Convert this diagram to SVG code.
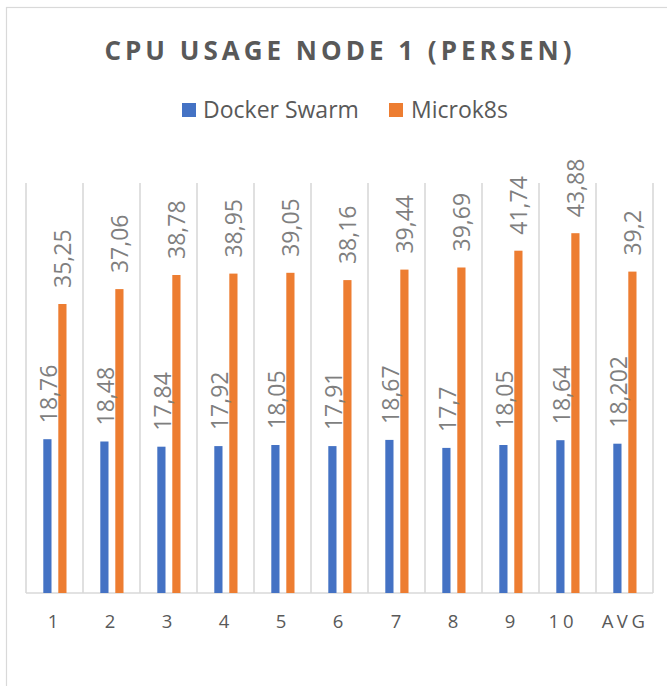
<svg xmlns="http://www.w3.org/2000/svg" width="667" height="686" viewBox="0 0 667 686">
<style>
.bg{fill:#FFFFFF}
.frame{fill:none;stroke:#D9D9D9;stroke-width:1.2}
.grid{stroke:#D9D9D9;stroke-width:1.6}
.blue{fill:#4472C4}
.orange{fill:#ED7D31}
.title{font-family:"Open Sans","Liberation Sans",sans-serif;font-weight:bold;font-size:26px;letter-spacing:4px;fill:#595959}
.leg{font-family:"Open Sans","Liberation Sans",sans-serif;font-size:23px;fill:#595959}
.dl{font-family:"Open Sans","Liberation Sans",sans-serif;font-size:23px;fill:#7F7F7F}
.ax{font-family:"Open Sans","Liberation Sans",sans-serif;font-size:18.5px;fill:#595959;text-anchor:middle}
</style>
<rect class="bg" x="0" y="0" width="667" height="686"/>
<rect class="frame" x="6.5" y="7.5" width="720" height="720"/>
<g id="title"><text class="title" x="340" y="60" text-anchor="middle">CPU USAGE NODE 1 (PERSEN)</text></g>
<g id="legend">
<rect class="blue" x="182" y="103" width="14" height="14"/>
<text class="leg" x="203" y="118">Docker Swarm</text>
<rect class="orange" x="389" y="103" width="14" height="14"/>
<text class="leg" x="411" y="118">Microk8s</text>
</g>
<g id="gridlines">
<line class="grid" x1="26" y1="183" x2="26" y2="593"/>
<line class="grid" x1="83" y1="183" x2="83" y2="593"/>
<line class="grid" x1="140" y1="183" x2="140" y2="593"/>
<line class="grid" x1="197" y1="183" x2="197" y2="593"/>
<line class="grid" x1="254" y1="183" x2="254" y2="593"/>
<line class="grid" x1="311" y1="183" x2="311" y2="593"/>
<line class="grid" x1="368" y1="183" x2="368" y2="593"/>
<line class="grid" x1="425" y1="183" x2="425" y2="593"/>
<line class="grid" x1="482" y1="183" x2="482" y2="593"/>
<line class="grid" x1="539" y1="183" x2="539" y2="593"/>
<line class="grid" x1="596" y1="183" x2="596" y2="593"/>
<line class="grid" x1="653" y1="183" x2="653" y2="593"/>
<line class="grid" x1="26" y1="593" x2="653" y2="593"/>
</g>
<g id="series-docker-swarm">
<rect class="blue" x="43.3" y="439.2" width="8.2" height="153.8"/>
<rect class="blue" x="100.3" y="441.5" width="8.2" height="151.5"/>
<rect class="blue" x="157.3" y="446.7" width="8.2" height="146.3"/>
<rect class="blue" x="214.3" y="446.1" width="8.2" height="146.9"/>
<rect class="blue" x="271.3" y="445.0" width="8.2" height="148.0"/>
<rect class="blue" x="328.3" y="446.1" width="8.2" height="146.9"/>
<rect class="blue" x="385.3" y="439.9" width="8.2" height="153.1"/>
<rect class="blue" x="442.3" y="447.9" width="8.2" height="145.1"/>
<rect class="blue" x="499.3" y="445.0" width="8.2" height="148.0"/>
<rect class="blue" x="556.3" y="440.2" width="8.2" height="152.8"/>
<rect class="blue" x="613.3" y="443.7" width="8.2" height="149.3"/>
</g>
<g id="series-microk8s">
<rect class="orange" x="58.3" y="304.0" width="8.2" height="289.0"/>
<rect class="orange" x="115.3" y="289.1" width="8.2" height="303.9"/>
<rect class="orange" x="172.3" y="275.0" width="8.2" height="318.0"/>
<rect class="orange" x="229.3" y="273.6" width="8.2" height="319.4"/>
<rect class="orange" x="286.3" y="272.8" width="8.2" height="320.2"/>
<rect class="orange" x="343.3" y="280.1" width="8.2" height="312.9"/>
<rect class="orange" x="400.3" y="269.6" width="8.2" height="323.4"/>
<rect class="orange" x="457.3" y="267.5" width="8.2" height="325.5"/>
<rect class="orange" x="514.3" y="250.7" width="8.2" height="342.3"/>
<rect class="orange" x="571.3" y="233.2" width="8.2" height="359.8"/>
<rect class="orange" x="628.3" y="271.6" width="8.2" height="321.4"/>
</g>
<g id="labels-docker-swarm">
<text class="dl" transform="translate(57.4,423.2) rotate(-90)">18,76</text>
<text class="dl" transform="translate(114.4,425.5) rotate(-90)">18,48</text>
<text class="dl" transform="translate(171.4,430.7) rotate(-90)">17,84</text>
<text class="dl" transform="translate(228.4,430.1) rotate(-90)">17,92</text>
<text class="dl" transform="translate(285.4,429.0) rotate(-90)">18,05</text>
<text class="dl" transform="translate(342.4,430.1) rotate(-90)">17,91</text>
<text class="dl" transform="translate(399.4,423.9) rotate(-90)">18,67</text>
<text class="dl" transform="translate(456.4,431.9) rotate(-90)">17,7</text>
<text class="dl" transform="translate(513.4,429.0) rotate(-90)">18,05</text>
<text class="dl" transform="translate(570.4,424.2) rotate(-90)">18,64</text>
<text class="dl" transform="translate(627.4,427.7) rotate(-90)">18,202</text>
</g>
<g id="labels-microk8s">
<text class="dl" transform="translate(71.4,288.0) rotate(-90)">35,25</text>
<text class="dl" transform="translate(128.4,273.1) rotate(-90)">37,06</text>
<text class="dl" transform="translate(185.4,259.0) rotate(-90)">38,78</text>
<text class="dl" transform="translate(242.4,257.6) rotate(-90)">38,95</text>
<text class="dl" transform="translate(299.4,256.8) rotate(-90)">39,05</text>
<text class="dl" transform="translate(356.4,264.1) rotate(-90)">38,16</text>
<text class="dl" transform="translate(413.4,253.6) rotate(-90)">39,44</text>
<text class="dl" transform="translate(470.4,251.5) rotate(-90)">39,69</text>
<text class="dl" transform="translate(527.4,234.7) rotate(-90)">41,74</text>
<text class="dl" transform="translate(584.4,217.2) rotate(-90)">43,88</text>
<text class="dl" transform="translate(641.4,255.6) rotate(-90)">39,2</text>
</g>
<g id="axis-labels">
<text class="ax" x="53" y="628">1</text>
<text class="ax" x="110" y="628">2</text>
<text class="ax" x="167" y="628">3</text>
<text class="ax" x="224" y="628">4</text>
<text class="ax" x="281" y="628">5</text>
<text class="ax" x="338" y="628">6</text>
<text class="ax" x="396" y="628">7</text>
<text class="ax" x="453" y="628">8</text>
<text class="ax" x="510" y="628">9</text>
<text class="ax" x="563" y="628" style="letter-spacing:4px">10</text>
<text class="ax" x="625" y="628" style="letter-spacing:3.5px">AVG</text>
</g>
</svg>
